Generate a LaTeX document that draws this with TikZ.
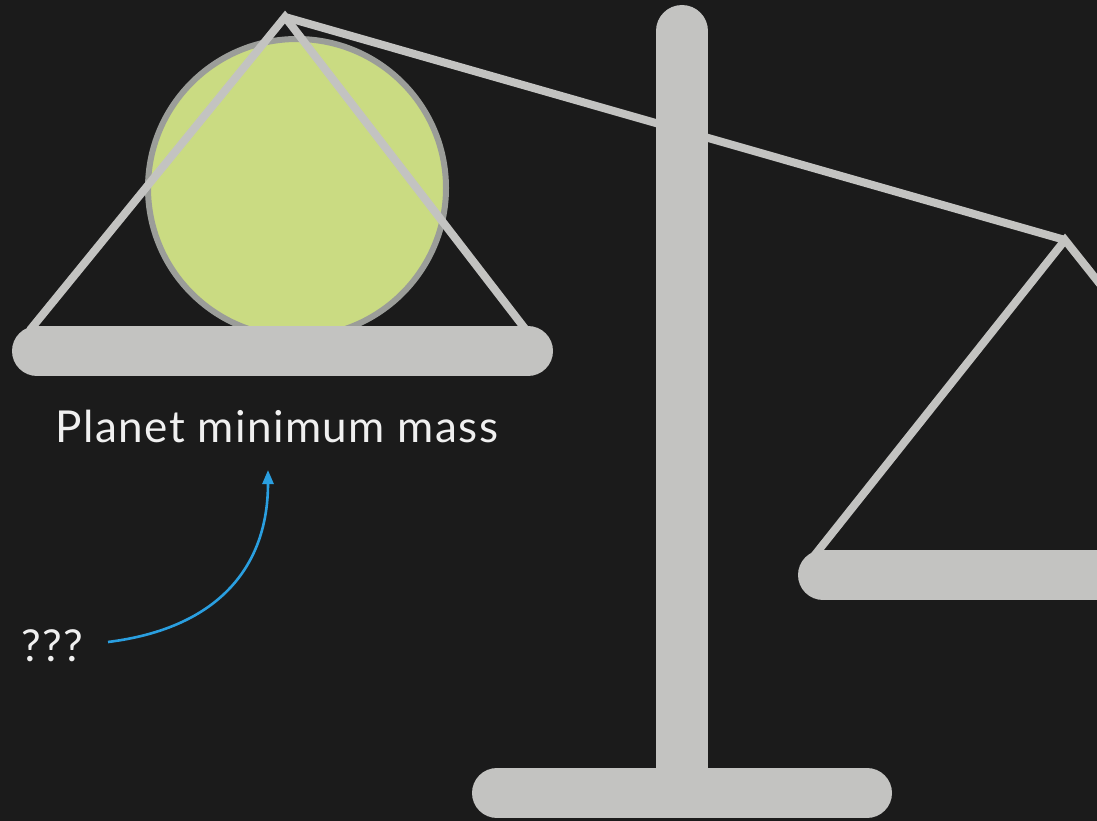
\documentclass[tikz,border=0pt]{standalone}
\usepackage{fontspec}
\setmainfont{Lato}[LetterSpace=3.3]
\usetikzlibrary{arrows.meta}
\definecolor{bg}{HTML}{1B1B1B}
\definecolor{metal}{HTML}{C3C3C1}
\definecolor{planetfill}{HTML}{CADB82}
\definecolor{planetedge}{HTML}{9B9D99}
\definecolor{txt}{HTML}{F0F0F0}
\definecolor{arrowblue}{HTML}{2A9FE0}
\tikzset{
  rod/.style={draw=metal, line width=8bp, line join=miter, line cap=butt},
  barstyle/.style={draw=metal, line cap=round},
  lbl/.style={text=txt, inner sep=0pt, font=\fontsize{44bp}{52bp}\selectfont},
  pointer/.style={draw=arrowblue, line width=2.6bp, -{Triangle[length=14bp,width=11bp]}}
}
\begin{document}
\begin{tikzpicture}[x=1bp,y=-1bp]
\useasboundingbox (0,0) rectangle (1097,821);
\fill[bg] (0,0) rectangle (1097,821);
\clip (0,0) rectangle (1097,821);
% planet
\node[circle, draw=planetedge, line width=6bp, fill=planetfill, minimum size=298bp, inner sep=0pt] (planet) at (297,188) {};
% left pan strings
\coordinate (apexL) at (285,17);
\coordinate (footLl) at (30,330);
\coordinate (footLr) at (526,330);
\draw[rod] (footLl) -- (apexL) -- (footLr);
% right pan strings
\coordinate (apexR) at (1065,240);
\coordinate (footRl) at (814,556);
\coordinate (footRr) at (1316,556);
\draw[rod] (footRl) -- (apexR) -- (footRr);
% beam
\draw[rod] (apexL) -- (apexR);
% post
\coordinate (posttop) at (682,31);
\coordinate (postbot) at (682,790);
\draw[barstyle, line width=52bp] (posttop) -- (postbot);
% base
\coordinate (baseL) at (497,793);
\coordinate (baseR) at (867,793);
\draw[barstyle, line width=50bp] (baseL) -- (baseR);
% pans
\coordinate (panLl) at (37,351);
\coordinate (panLr) at (528,351);
\draw[barstyle, line width=50bp] (panLl) -- (panLr);
\coordinate (panRl) at (823,575);
\coordinate (panRr) at (1320,575);
\draw[barstyle, line width=50bp] (panRl) -- (panRr);
% labels
\node[lbl] (mass) at (277,426) {Planet minimum mass};
\node[lbl] (qq) at (52,646) {???};
\coordinate (arrstart) at (108,642);
\coordinate (arrend) at (268,470);
\draw[pointer] (arrstart) .. controls (220,628) and (268,565) .. (arrend);
\end{tikzpicture}
\end{document}
